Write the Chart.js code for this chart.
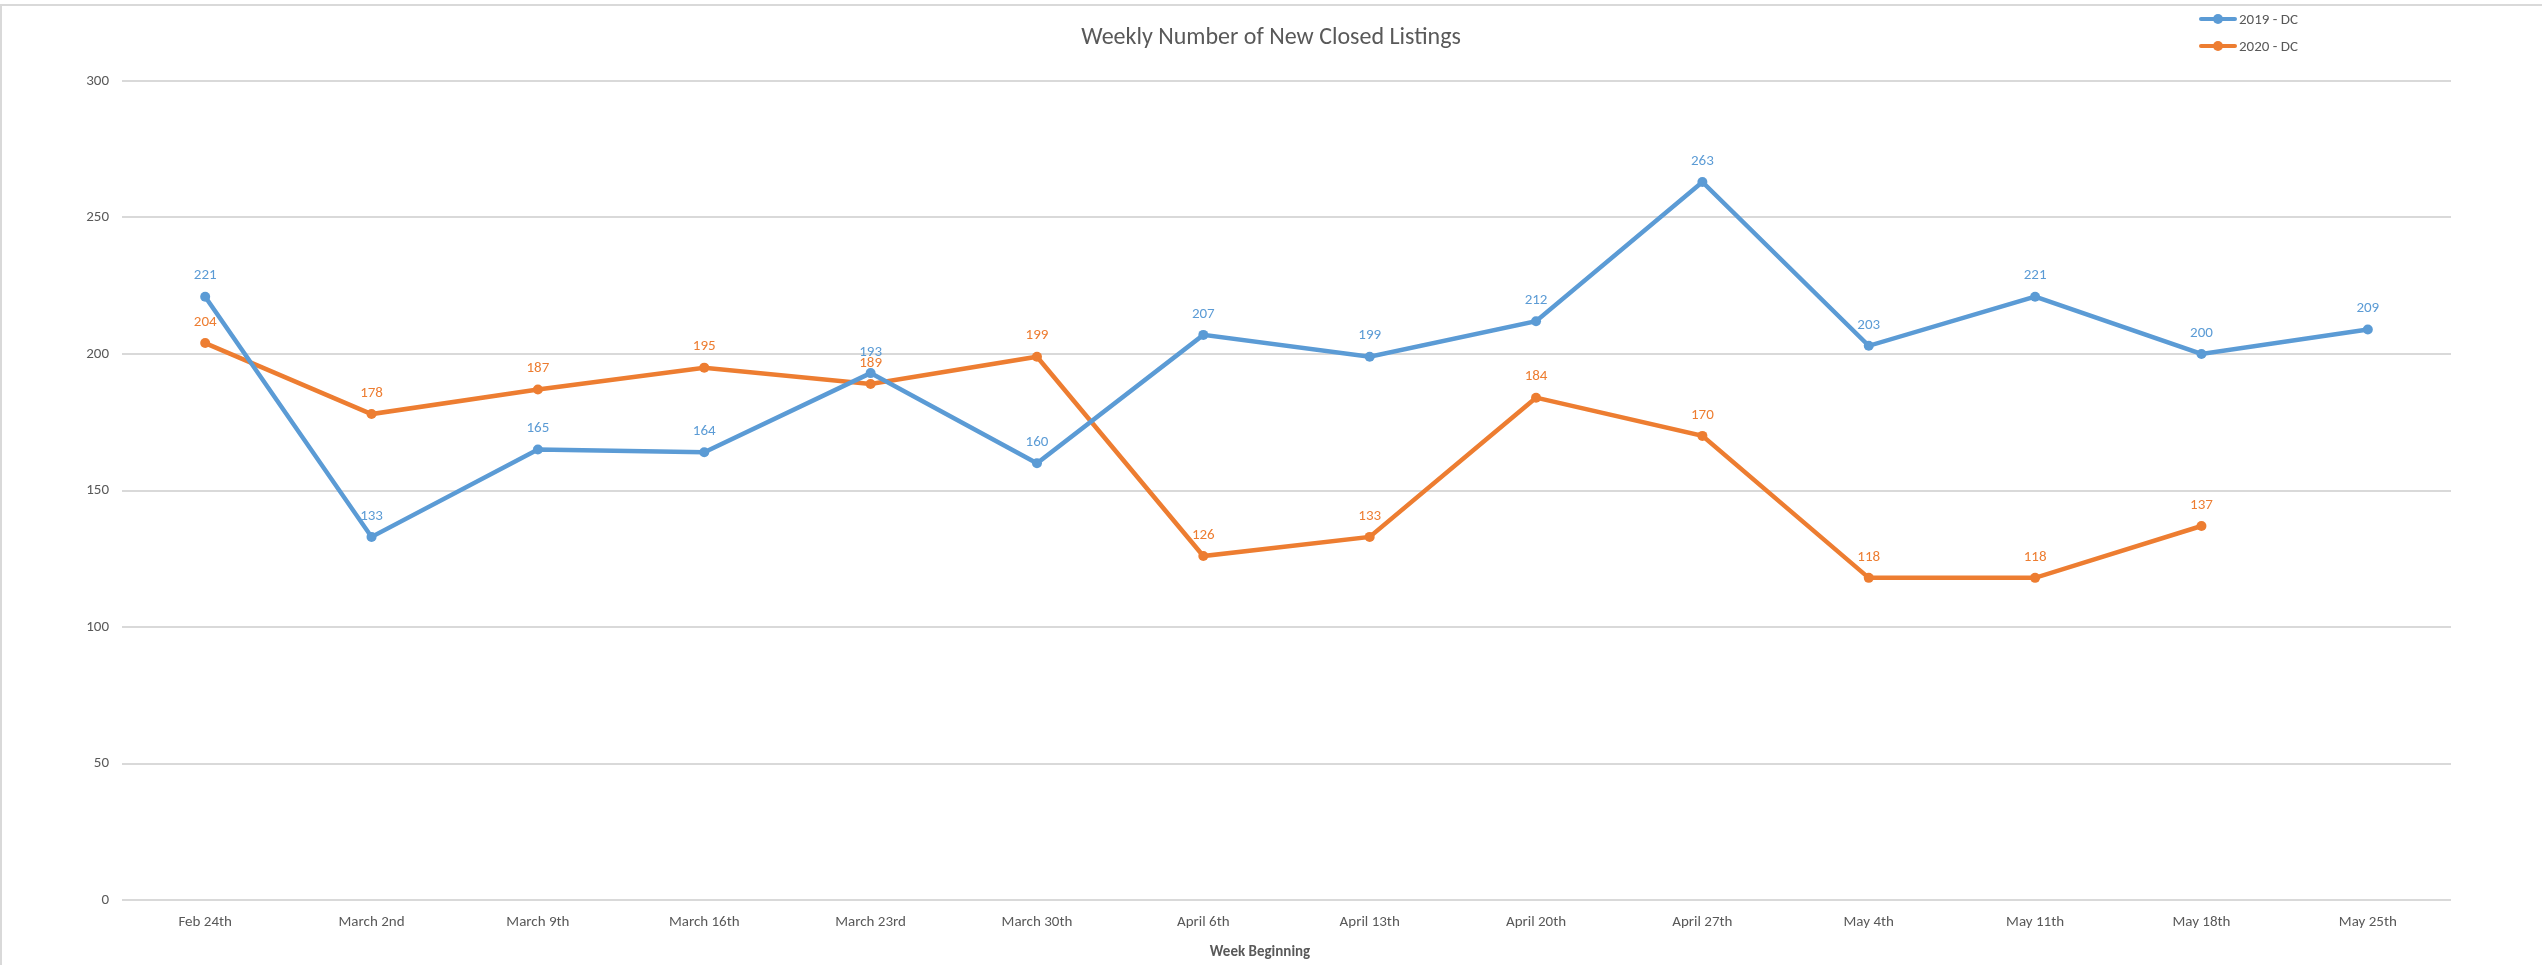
<!DOCTYPE html>
<html>
<head>
<meta charset="utf-8">
<title>Weekly Number of New Closed Listings</title>
<script src="https://cdn.jsdelivr.net/npm/chart.js@4/dist/chart.umd.min.js"></script>
<style>
  html, body { margin: 0; padding: 0; background: #fff; overflow: hidden; }
  #wrap { position: relative; width: 2542px; height: 965px; }
</style>
</head>
<body>
<div id="wrap"><canvas id="closed-chart" width="2542" height="965"></canvas></div>
<script>
const weeks = ['Feb 24th', 'March 2nd', 'March 9th', 'March 16th', 'March 23rd', 'March 30th',
  'April 6th', 'April 13th', 'April 20th', 'April 27th', 'May 4th', 'May 11th', 'May 18th', 'May 25th']
const dc2019 = [221, 133, 165, 164, 193, 160, 207, 199, 212, 263, 203, 221, 200, 209]
const dc2020 = [204, 178, 187, 195, 189, 199, 126, 133, 184, 170, 118, 118, 137, null]
const seriesNames = ['2019 - DC', '2020 - DC']
const yTicks = [0, 50, 100, 150, 200, 250, 300]
const chartTitle = 'Weekly Number of New Closed Listings'
const xTitle = 'Week Beginning'

const blue = '#5B9BD5'
const orange = '#ED7D31'
const grey = '#595959'
const fontFamily = "Carlito, 'Liberation Sans Narrow', 'Open Sans', sans-serif"

Chart.defaults.font.family = fontFamily
Chart.defaults.color = grey

// little value labels over each point, same colour as the line
const pointLabels = {
  id: 'pointLabels',
  afterDatasetsDraw(chart) {
    const ctx = chart.ctx
    ctx.save()
    ctx.font = `15px ${fontFamily}`
    ctx.textAlign = 'center'
    ctx.textBaseline = 'middle'
    chart.data.datasets.forEach((ds, i) => {
      const meta = chart.getDatasetMeta(i)
      ctx.fillStyle = ds.borderColor
      meta.data.forEach((pt, j) => {
        const v = ds.data[j]
        if (v === null || v === undefined) return
        ctx.fillText(String(v), pt.x, pt.y - 21)
      })
    })
    ctx.restore()
  }
}

// chart title (centred on the whole sheet) and the x axis title
const titles = {
  id: 'titles',
  afterDraw(chart) {
    const ctx = chart.ctx
    ctx.save()
    ctx.fillStyle = grey
    ctx.textAlign = 'center'
    ctx.textBaseline = 'middle'
    ctx.font = `24px ${fontFamily}`
    ctx.fillText(chartTitle, chart.width / 2, 38)
    ctx.font = `bold 15px ${fontFamily}`
    ctx.fillText(xTitle, 1260, 952)
    ctx.restore()
  }
}

// legend stacked in the top right corner, line with a dot
const cornerLegend = {
  id: 'cornerLegend',
  afterDraw(chart) {
    const ctx = chart.ctx
    ctx.save()
    ctx.font = `15px ${fontFamily}`
    ctx.textBaseline = 'middle'
    ctx.textAlign = 'left'
    chart.data.datasets.forEach((ds, i) => {
      const y = 19 + i * 27
      ctx.strokeStyle = ds.borderColor
      ctx.lineWidth = 4
      ctx.lineCap = 'round'
      ctx.beginPath()
      ctx.moveTo(2201, y)
      ctx.lineTo(2235, y)
      ctx.stroke()
      ctx.fillStyle = ds.borderColor
      ctx.beginPath()
      ctx.arc(2218, y, 5, 0, Math.PI * 2)
      ctx.fill()
      ctx.fillStyle = grey
      ctx.fillText(ds.label, 2239, y + 1)
    })
    ctx.restore()
  }
}

// thin frame on the top and left edge like the sheet's chart box
const frame = {
  id: 'frame',
  beforeDraw(chart) {
    const ctx = chart.ctx
    ctx.save()
    ctx.strokeStyle = '#D9D9D9'
    ctx.lineWidth = 2
    ctx.beginPath()
    ctx.moveTo(1, 965)
    ctx.lineTo(1, 5)
    ctx.lineTo(2542, 5)
    ctx.stroke()
    ctx.restore()
  }
}

function makeDataset(label, data, color) {
  return {
    label: label,
    data: data,
    borderColor: color,
    backgroundColor: color,
    borderWidth: 4.5,
    pointRadius: 5,
    pointHoverRadius: 5,
    pointBorderWidth: 0,
    tension: 0,
    spanGaps: false
  }
}

const ctx = document.getElementById('closed-chart').getContext('2d')
new Chart(ctx, {
  type: 'line',
  data: {
    labels: weeks,
    datasets: [
      makeDataset(seriesNames[0], dc2019, blue),
      makeDataset(seriesNames[1], dc2020, orange)
    ]
  },
  options: {
    responsive: false,
    animation: false,
    maintainAspectRatio: false,
    layout: { padding: { left: 0, right: 91, top: 81, bottom: 0 } },
    plugins: {
      legend: { display: false },
      tooltip: { enabled: false },
      title: { display: false }
    },
    scales: {
      x: {
        offset: true,
        grid: { display: false, drawTicks: false },
        border: { display: false },
        ticks: { padding: 13, font: { size: 15 }, color: grey, maxRotation: 0, autoSkip: false },
        afterFit(scale) { scale.height = 65 }
      },
      y: {
        min: yTicks[0],
        max: yTicks[yTicks.length - 1],
        afterBuildTicks(scale) { scale.ticks = yTicks.map(v => ({ value: v })) },
        grid: { color: '#D9D9D9', lineWidth: 2, drawTicks: false },
        border: { display: false },
        ticks: { padding: 13, font: { size: 15 }, color: grey },
        afterFit(scale) { scale.width = 122 }
      }
    }
  },
  plugins: [frame, pointLabels, cornerLegend, titles]
})
</script>
</body>
</html>
